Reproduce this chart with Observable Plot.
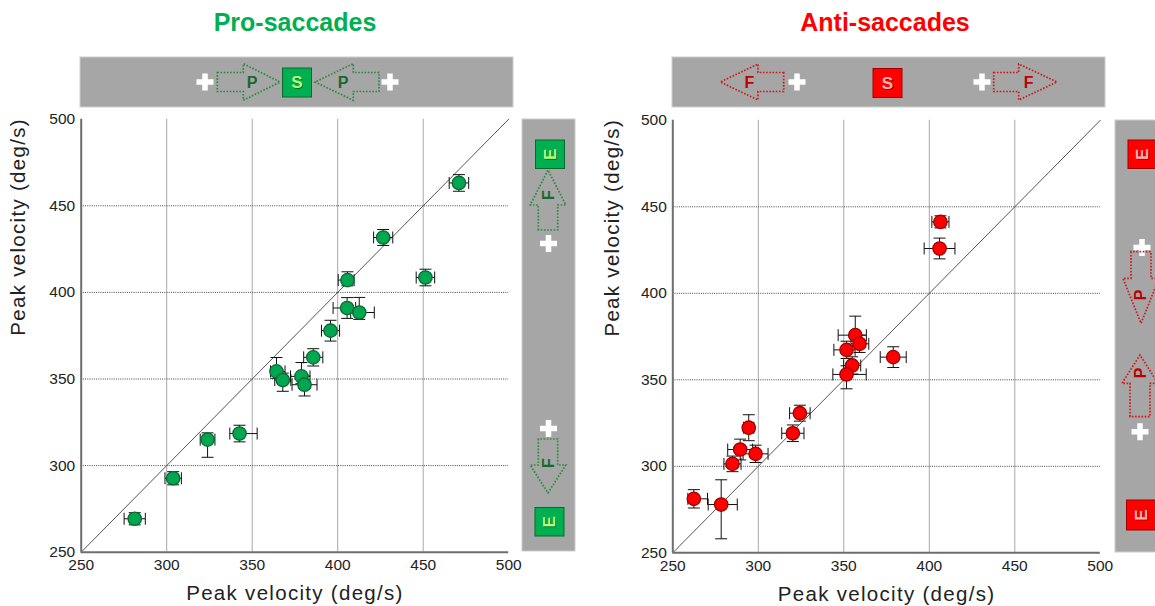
<!DOCTYPE html>
<html>
<head>
<meta charset="utf-8">
<script src="https://cdn.jsdelivr.net/npm/d3@7"></script>
<script src="https://cdn.jsdelivr.net/npm/@observablehq/plot@0.6"></script>
<style>
  html, body { margin: 0; padding: 0; background: #fff; }
  #wrap { position: relative; width: 1155px; height: 606px; overflow: hidden; font-family: "Liberation Sans", Arial, sans-serif; }
  #wrap > svg, #wrap > div { position: absolute; }
</style>
</head>
<body>
<div id="wrap"></div>
<script>
// ---------- data ----------
const titles = ["Pro-saccades", "Anti-saccades"];
const axisTitle = "Peak velocity (deg/s)";
const tickValues = [250, 300, 350, 400, 450, 500];
const gridValues = [300, 350, 400, 450];

// Pro-saccades (green)
const proX   = [281.3, 303.8, 323.9, 342.6, 364.2, 367.9, 378.8, 380.6, 385.7, 395.8, 405.5, 412.6, 405.7, 451.3, 426.6, 470.9];
const proY   = [269.3, 292.7, 315.0, 318.5, 354.4, 349.4, 351.5, 346.7, 362.5, 377.9, 391.0, 388.4, 407.1, 408.6, 431.7, 463.2];
const proXLo = [6.2, 4.8, 4.3, 5.7, 3.5, 4.7, 6.4, 7.3, 5.6, 5.3, 8.2, 5.0, 5.4, 5.4, 5.6, 5.7];
const proXHi = [6.2, 4.8, 4.3, 10.3, 5.0, 4.7, 5.0, 7.3, 5.6, 5.3, 5.0, 8.8, 3.9, 5.4, 5.6, 5.7];
const proYLo = [3.5, 3.8, 10.2, 4.8, 4.0, 6.5, 4.0, 6.5, 5.0, 6.0, 6.0, 4.0, 3.3, 4.8, 4.6, 4.8];
const proYHi = [3.5, 3.8, 3.9, 4.8, 8.0, 4.0, 8.0, 5.0, 5.0, 6.0, 6.0, 8.7, 4.8, 4.8, 4.6, 4.8];

// Anti-saccades (red)
const antiX   = [262.3, 278.3, 284.9, 289.4, 294.4, 298.4, 320.2, 324.3, 356.7, 359.2, 351.6, 354.9, 351.6, 378.9, 406.5, 406.0];
const antiY   = [281.2, 277.9, 301.4, 309.7, 322.3, 307.2, 319.1, 330.7, 375.8, 370.8, 367.3, 358.3, 353.1, 363.1, 441.3, 425.9];
const antiXLo = [3.5, 7.6, 5.0, 7.3, 3.0, 7.3, 6.5, 6.0, 10.0, 5.0, 7.4, 5.0, 8.0, 7.6, 5.0, 9.0];
const antiXHi = [8.0, 9.4, 5.0, 7.3, 3.0, 7.3, 6.5, 6.0, 6.5, 5.4, 5.0, 5.0, 11.5, 7.6, 5.0, 9.0];
const antiYLo = [5.3, 19.8, 4.5, 6.0, 7.5, 5.0, 4.8, 4.6, 6.0, 5.0, 5.0, 5.0, 8.3, 6.0, 3.5, 6.0];
const antiYHi = [5.3, 14.3, 4.5, 6.0, 7.5, 5.0, 4.8, 4.6, 11.0, 5.0, 5.0, 5.0, 5.0, 6.0, 3.5, 6.0];

const rows = (X, Y, XL, XH, YL, YH) => X.map((x, i) => ({x, y: Y[i], x0: x - XL[i], x1: x + XH[i], y0: Y[i] - YL[i], y1: Y[i] + YH[i]}));
const proData = rows(proX, proY, proXLo, proXHi, proYLo, proYHi);
const antiData = rows(antiX, antiY, antiXLo, antiXHi, antiYLo, antiYHi);

// ---------- chart ----------
const capV = {draw(ctx) { ctx.moveTo(0, -6); ctx.lineTo(0, 6); }};
const capH = {draw(ctx) { ctx.moveTo(-6, 0); ctx.lineTo(6, 0); }};
const FONT = "'Liberation Sans', Arial, sans-serif";

function panel(data, o) {
  return Plot.plot({
    width: 515, height: 496,
    marginLeft: o.ml, marginRight: o.mr, marginTop: o.mt, marginBottom: o.mb,
    x: {domain: [250, 500], ticks: tickValues, label: null},
    y: {domain: [250, 500], ticks: tickValues, label: null},
    style: {fontFamily: FONT, fontSize: "16px", color: "#222", background: "transparent", overflow: "visible"},
    marks: [
      Plot.ruleX(gridValues, {stroke: "#a8a8a8", strokeWidth: 1}),
      Plot.ruleY(gridValues, {stroke: "#444", strokeWidth: 1, strokeDasharray: "1,1.2"}),
      Plot.line([tickValues[0], tickValues[tickValues.length - 1]], {x: d => d, y: d => d, stroke: "#555", strokeWidth: 1}),
      Plot.ruleX([250], {stroke: "#6e6e6e", strokeWidth: 2}),
      Plot.ruleY([250], {stroke: "#6e6e6e", strokeWidth: 2}),
      Plot.axisX({ticks: tickValues, tickSize: 0, tickPadding: 7, label: null, fill: "#222", fontSize: 15.5}),
      Plot.axisY({ticks: tickValues, tickSize: 0, tickPadding: 6, label: null, fill: "#222", fontSize: 15.5}),
      Plot.link(data, {x1: "x0", x2: "x1", y1: "y", y2: "y", stroke: "#111", strokeWidth: 1}),
      Plot.link(data, {x1: "x", x2: "x", y1: "y0", y2: "y1", stroke: "#111", strokeWidth: 1}),
      Plot.dot(data, {x: "x0", y: "y", symbol: capV, fill: "none", stroke: "#111", strokeWidth: 1}),
      Plot.dot(data, {x: "x1", y: "y", symbol: capV, fill: "none", stroke: "#111", strokeWidth: 1}),
      Plot.dot(data, {x: "x", y: "y0", symbol: capH, fill: "none", stroke: "#111", strokeWidth: 1}),
      Plot.dot(data, {x: "x", y: "y1", symbol: capH, fill: "none", stroke: "#111", strokeWidth: 1}),
      Plot.dot(data, {x: "x", y: "y", r: 6.7, fill: o.fill, stroke: o.stroke, strokeWidth: 1.3}),
      Plot.text([axisTitle], {frameAnchor: "bottom", dy: 48, text: d => d, fontSize: 20.5, fill: "#222"}),
      Plot.text([axisTitle], {frameAnchor: "left", rotate: -90, dx: o.ydx, text: d => d, fontSize: 20.5, fill: "#222"})
    ]
  });
}

const wrap = document.getElementById("wrap");
const p1 = panel(proData, {ml: 80.7, mr: 6.8, mt: 8.7, mb: 54.3, fill: "#00a651", stroke: "#0a6b2e", ydx: -62.5});
p1.style.left = "0px"; p1.style.top = "110px";
wrap.appendChild(p1);
const p2 = panel(antiData, {ml: 82.3, mr: 5.2, mt: 9.8, mb: 53.7, fill: "#ff0000", stroke: "#a00000", ydx: -60});
p2.style.left = "590px"; p2.style.top = "110px";
wrap.appendChild(p2);
for (const p of [p1, p2]) {
  d3.select(p).selectAll("text").filter(function () { return this.textContent === axisTitle; }).style("letter-spacing", "1.3px");
  d3.select(p).selectAll('g[aria-label$="tick label"]').attr("font-size", 15.5).style("font-size", "15.5px");
}

// ---------- decorative banners ----------
const G = {stroke: "#2b8a3e", letter: "#17692c", box: "#00b050", boxStroke: "#0a6a2e", boxText: "#b8ff7a"};
const R = {stroke: "#d01818", letter: "#c00000", box: "#ff0000", boxStroke: "#a00000", boxText: "#ffb3b3"};

function hArrow(tail, base, tip, cy, bh, hh) {
  return [[tail, cy - bh], [base, cy - bh], [base, cy - hh], [tip, cy], [base, cy + hh], [base, cy + bh], [tail, cy + bh]].map(p => p.join(",")).join(" ");
}
function vArrow(tail, base, tip, cx, bw, hw) {
  return [[cx - bw, tail], [cx - bw, base], [cx - hw, base], [cx, tip], [cx + hw, base], [cx + bw, base], [cx + bw, tail]].map(p => p.join(",")).join(" ");
}
const arrow = (pts, c) => `<polygon points="${pts}" fill="none" stroke="${c.stroke}" stroke-width="1.7" stroke-dasharray="1.6,1.6"/>`;
const letter = (t, x, y, c, rot) => `<text x="0" y="0" transform="translate(${x},${y})${rot ? " rotate(-90)" : ""}" text-anchor="middle" dominant-baseline="central" font-weight="bold" font-size="16" fill="${c.letter}">${t}</text>`;
const box = (t, x, y, w, h, c, rot) => `<rect x="${x}" y="${y}" width="${w}" height="${h}" fill="${c.box}" stroke="${c.boxStroke}" stroke-width="1"/>` +
  `<text transform="translate(${x + w / 2 + 1},${y + h / 2 + 1})${rot ? " rotate(-90)" : ""}" text-anchor="middle" dominant-baseline="central" font-weight="bold" font-size="17" fill="rgba(0,0,0,0.35)">${t}</text>` +
  `<text transform="translate(${x + w / 2},${y + h / 2})${rot ? " rotate(-90)" : ""}" text-anchor="middle" dominant-baseline="central" font-weight="bold" font-size="17" fill="${c.boxText}">${t}</text>`;
const plus = (x, y) => `<path d="M${x - 8.5},${y}H${x + 8.5}M${x},${y - 8.5}V${y + 8.5}" stroke="#fff" stroke-width="5.5"/>`;

let s = "";
// titles
s += `<text x="295" y="31" text-anchor="middle" font-weight="bold" font-size="25" fill="#00b050">${titles[0]}</text>`;
s += `<text x="885" y="31" text-anchor="middle" font-weight="bold" font-size="25" fill="#ff0000">${titles[1]}</text>`;
// top banners
s += `<rect x="80" y="57" width="433" height="50" fill="#a6a6a6" stroke="#cdcdcd" stroke-width="1"/>`;
s += `<rect x="672" y="57" width="433" height="50" fill="#a6a6a6" stroke="#cdcdcd" stroke-width="1"/>`;
// left top
s += plus(205, 82);
s += arrow(hArrow(217.3, 243.3, 280, 82, 9.5, 18.3), G) + letter("P", 252, 82, G);
s += box("S", 282.5, 68, 29, 29, G);
s += arrow(hArrow(379, 353.3, 315, 82, 9.5, 18.3), G) + letter("P", 343, 82, G);
s += plus(390, 82);
// right top
s += arrow(hArrow(783.7, 758, 720.3, 82, 9.5, 18), R) + letter("F", 749.3, 82, R);
s += plus(797, 82);
s += box("S", 873, 68.5, 29, 29, R);
s += plus(982, 82);
s += arrow(hArrow(993.7, 1018.7, 1057, 82, 9.5, 18), R) + letter("F", 1028.7, 82, R);
// left vertical banner
s += `<rect x="522" y="119" width="53" height="432" fill="#a6a6a6" stroke="#cdcdcd" stroke-width="1"/>`;
s += box("E", 535.5, 140, 29, 28.5, G, true);
s += arrow(vArrow(230, 205, 170, 548, 9.7, 17.8), G) + letter("F", 548.5, 195, G, true);
s += plus(548.5, 243.5);
s += plus(548.5, 428.5);
s += arrow(vArrow(439, 465, 493, 548, 9.7, 17.8), G) + letter("F", 548.5, 463, G, true);
s += box("E", 535, 507.5, 29, 28.5, G, true);
// right vertical banner
s += `<rect x="1115" y="120" width="50" height="432" fill="#a6a6a6" stroke="#cdcdcd" stroke-width="1"/>`;
s += box("E", 1128, 140, 29, 28.5, R, true);
s += plus(1142, 247.5);
s += arrow(vArrow(251.7, 278.3, 323.3, 1141, 10, 18), R) + letter("P", 1140.5, 295, R, true);
s += arrow(vArrow(416.7, 383.3, 355, 1140, 10, 18), R) + letter("P", 1140, 373, R, true);
s += plus(1140, 431.7);
s += box("E", 1126.5, 500, 29, 30, R, true);

const overlay = `<svg xmlns="http://www.w3.org/2000/svg" width="1155" height="606" style="left:0;top:0;font-family:${FONT.replace(/'/g, "")}">${s}</svg>`;
wrap.insertAdjacentHTML("beforeend", overlay);
</script>
</body>
</html>
